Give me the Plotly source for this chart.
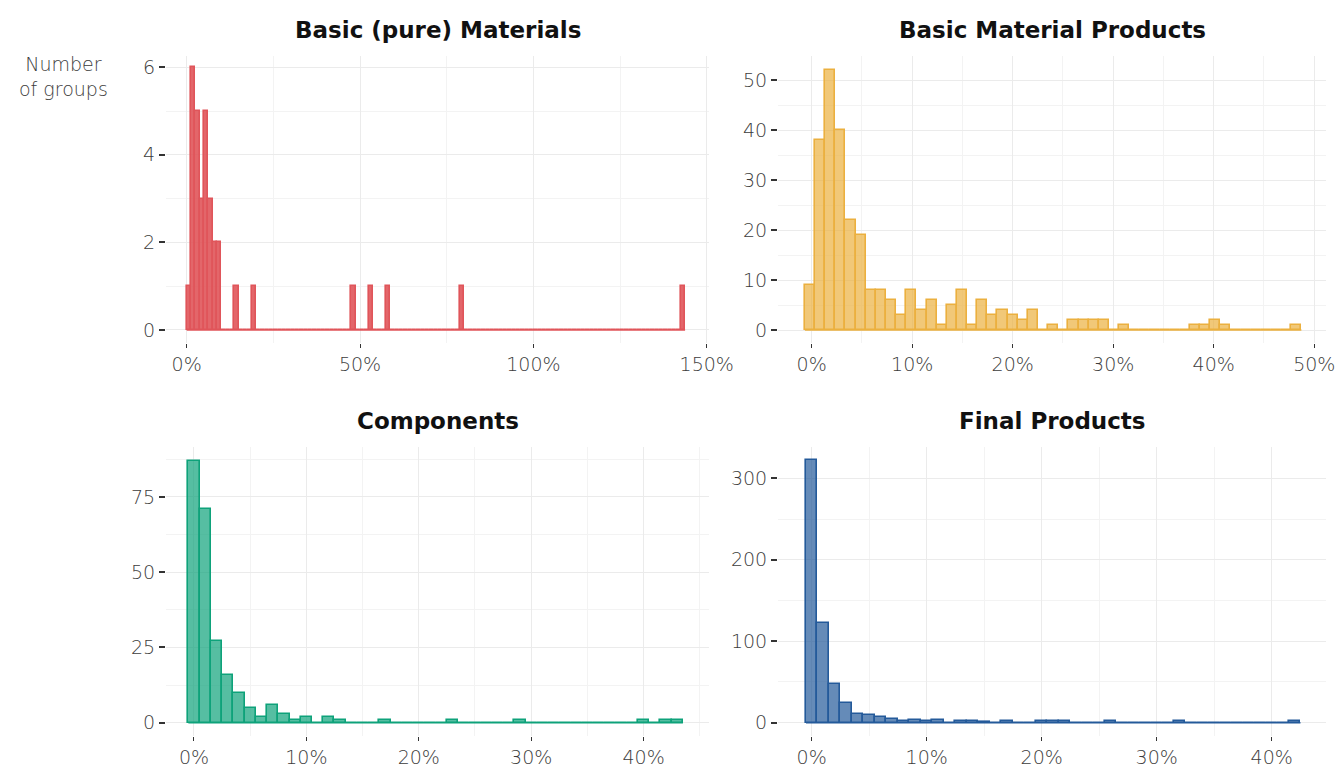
import plotly.graph_objects as go

W, H = 1341, 769

TITLES = ["Basic (pure) Materials", "Basic Material Products", "Components", "Final Products"]
LINE_COLORS = ["#E0555A", "#EBB03F", "#0EA27A", "#245A9A"]
FILL_COLORS = ["rgba(224,85,90,0.9)", "rgba(235,176,63,0.7)", "rgba(14,162,122,0.7)", "rgba(36,90,154,0.7)"]
Y_LABEL = "Number<br>of groups"

# Panel 1: Basic (pure) Materials (sparse histogram, bin width in %)
P1_BIN_START = 0.0
P1_BIN_WIDTH = 1.25
P1_N_BINS = 115
P1_NONZERO_BINS = [0, 1, 2, 3, 4, 5, 6, 7, 11, 15, 38, 42, 46, 63, 114]
P1_NONZERO_COUNTS = [1, 6, 5, 3, 5, 3, 2, 2, 1, 1, 1, 1, 1, 1, 1]

# Panel 2: Basic Material Products
P2_BIN_START = -0.67
P2_BIN_WIDTH = 1.008
P2_COUNTS = [9, 38, 52, 40, 22, 19, 8, 8, 6, 3, 8, 4, 6, 1, 5, 8, 1, 6, 3, 4, 3, 2, 4, 0, 1,
             0, 2, 2, 2, 2, 0, 1, 0, 0, 0, 0, 0, 0, 1, 1, 2, 1, 0, 0, 0, 0, 0, 0, 1]

# Panel 3: Components
P3_BIN_START = -0.5
P3_BIN_WIDTH = 1.0
P3_COUNTS = [87, 71, 27, 16, 10, 5, 2, 6, 3, 1, 2, 0, 2, 1, 0, 0, 0, 1, 0, 0, 0, 0, 0, 1, 0,
             0, 0, 0, 0, 1, 0, 0, 0, 0, 0, 0, 0, 0, 0, 0, 1, 0, 1, 1]

# Panel 4: Final Products
P4_BIN_START = -0.5
P4_BIN_WIDTH = 1.0
P4_COUNTS = [323, 123, 48, 24, 11, 9, 7, 5, 2, 3, 2, 3, 0, 2, 2, 1, 0, 2, 0, 0, 2, 2, 2, 0, 0,
             0, 2, 0, 0, 0, 0, 0, 2, 0, 0, 0, 0, 0, 0, 0, 0, 0, 2]

# Axis settings per panel
X_RANGES = [[-5.97, 150.65], [-3.35, 51.17], [-2.49, 45.82], [-2.93, 44.72]]
Y_RANGES = [[-0.297, 6.256], [-2.6, 54.8], [-4.42, 91.6], [-16.3, 338.4]]
X_DTICK = [50, 10, 10, 10]
Y_DTICK = [2, 10, 25, 100]

p1_counts = [0] * P1_N_BINS
for b, c in zip(P1_NONZERO_BINS, P1_NONZERO_COUNTS):
    p1_counts[b] = c

panels = [
    (P1_BIN_START, P1_BIN_WIDTH, p1_counts),
    (P2_BIN_START, P2_BIN_WIDTH, P2_COUNTS),
    (P3_BIN_START, P3_BIN_WIDTH, P3_COUNTS),
    (P4_BIN_START, P4_BIN_WIDTH, P4_COUNTS),
]


def fx(px):
    return px / W


def fy(py):
    return 1 - py / H


# layout geometry in pixels
col_px = [(166, 709), (778, 1326)]
row_px = [(56, 343), (447, 736)]
title_y_px = [30, 421]

fig = go.Figure()
tick_font = dict(family="DejaVu Sans", size=19, color="#3c3c3c", weight=200)

for i, (start, w, counts) in enumerate(panels):
    r, c = divmod(i, 2)
    sfx = "" if i == 0 else str(i + 1)
    xa, ya = "x" + sfx, "y" + sfx
    centers = [start + w * (k + 0.5) for k in range(len(counts))]
    fig.add_trace(go.Bar(
        x=centers, y=counts, width=w, xaxis=xa, yaxis=ya,
        marker=dict(color=FILL_COLORS[i], line=dict(color=LINE_COLORS[i], width=1.6)),
        showlegend=False, hoverinfo="x+y",
    ))
    # baseline of empty bins
    fig.add_trace(go.Scatter(
        x=[start, start + w * len(counts)], y=[0, 0], mode="lines", xaxis=xa, yaxis=ya,
        line=dict(color=LINE_COLORS[i], width=1.6), showlegend=False, hoverinfo="skip",
    ))
    x0, x1 = col_px[c]
    y0, y1 = row_px[r]
    fig.layout["xaxis" + sfx] = dict(
        domain=[fx(x0), fx(x1)], anchor=ya, range=X_RANGES[i], automargin=False,
        tick0=0, dtick=X_DTICK[i], ticksuffix="%",
        showgrid=True, gridcolor="#ebebeb", gridwidth=1,
        minor=dict(showgrid=True, gridcolor="#f3f3f3", gridwidth=0.8, tick0=0, dtick=X_DTICK[i] / 2),
        zeroline=False, showline=False,
        ticks="outside", ticklen=4, tickwidth=1.3, tickcolor="#333333",
        tickfont=tick_font, fixedrange=True,
    )
    fig.layout["yaxis" + sfx] = dict(
        domain=[fy(y1), fy(y0)], anchor=xa, range=Y_RANGES[i], automargin=False,
        tick0=0, dtick=Y_DTICK[i],
        showgrid=True, gridcolor="#ebebeb", gridwidth=1,
        minor=dict(showgrid=True, gridcolor="#f3f3f3", gridwidth=0.8, tick0=0, dtick=Y_DTICK[i] / 2),
        zeroline=False, showline=False,
        ticks="outside", ticklen=6, tickwidth=1.5, tickcolor="#333333",
        ticklabelstandoff=0,
        tickfont=tick_font, fixedrange=True,
    )
    fig.add_annotation(
        text=TITLES[i], xref="paper", yref="paper",
        x=fx((x0 + x1) / 2), y=fy(title_y_px[r]), xanchor="center", yanchor="middle",
        showarrow=False, font=dict(family="DejaVu Sans", size=23, color="#111111", weight=700),
    )

fig.add_annotation(
    text=Y_LABEL, xref="paper", yref="paper", x=fx(64), y=fy(77),
    xanchor="center", yanchor="middle", align="center", showarrow=False,
    font=dict(family="DejaVu Sans", size=19, color="#3c3c3c", weight=200),
)

fig.update_layout(
    width=W, height=H, margin=dict(l=0, r=0, t=0, b=0, autoexpand=False), autosize=False,
    paper_bgcolor="white", plot_bgcolor="white", bargap=0,
    font=dict(family="DejaVu Sans"),
)

POST = (
    "document.documentElement.style.overflow='hidden';"
    "document.body.style.margin='0';document.body.style.overflow='hidden';"
)

fig.write_html("out.html", post_script=POST, config={"displayModeBar": False})
